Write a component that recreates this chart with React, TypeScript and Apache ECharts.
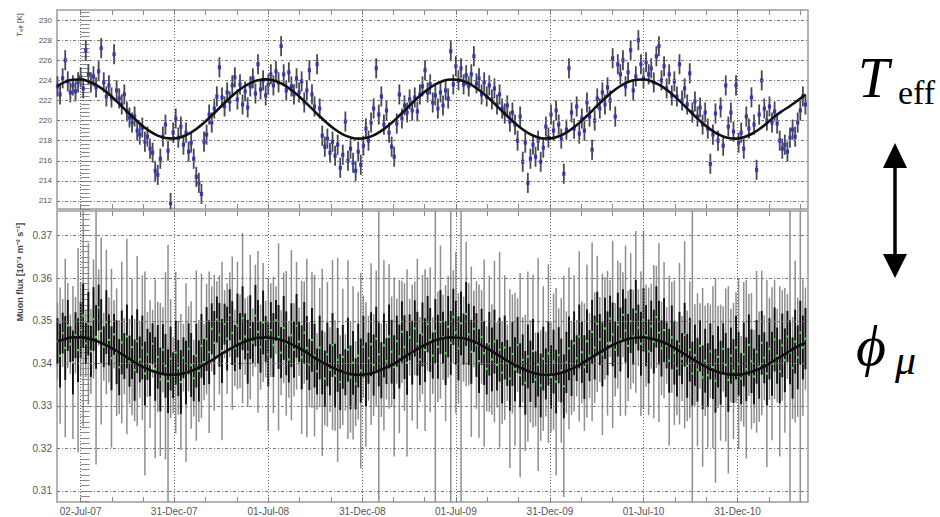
import React, { useEffect, useRef } from "react";
import * as echarts from "echarts";

// ---- x positions: days since 02-Jul-2007 ----
const START_DAY = -45;
const STEP_DAYS = 5;

// Effective temperature T_eff [K] (read every 5 days)
const TEFF = [
  223.4, 222.6, 224.2, 226.0, 223.9, 222.8, 223.5, 222.9, 223.8, 224.3,
  223.2, 227.0, 224.6, 223.8, 224.4, 223.3, 224.9, 227.2, 223.8, 222.4,
  223.5, 222.3, 226.6, 223.0, 222.2, 221.6, 222.6, 220.9, 220.3, 219.8,
  220.4, 219.0, 218.6, 219.3, 217.9, 218.4, 217.2, 216.8, 215.0, 214.6,
  216.2, 218.4, 219.6, 217.0, 211.8, 218.8, 220.2, 218.3, 219.4, 217.6,
  218.8, 216.9, 217.8, 216.2, 214.4, 213.8, 212.7, 217.9, 218.6, 220.6,
  219.8, 221.2, 222.4, 225.3, 222.3, 221.4, 222.8, 221.9, 223.5, 224.3,
  222.1, 223.6, 221.6, 222.9, 221.3, 223.4, 224.2, 222.7, 225.6, 223.1,
  224.0, 222.5, 223.6, 224.6, 223.5, 224.9, 223.8, 227.4, 224.6, 223.0,
  224.8, 223.4, 222.6, 224.2, 222.8, 223.9, 221.8, 223.0, 225.0, 222.6,
  221.4, 225.6, 221.2, 218.5, 217.4, 218.2, 216.8, 217.9, 216.5, 217.6,
  215.3, 216.6, 219.9, 216.0, 217.2, 215.8, 215.0, 216.9, 215.6, 217.5,
  219.2, 218.0, 219.8, 221.2, 225.2, 220.6, 222.4, 219.6, 221.0, 218.8,
  217.4, 216.4, 219.7, 222.6, 220.2, 221.5, 220.8, 222.1, 221.0, 222.3,
  220.9, 222.6, 223.4, 225.0, 222.8, 223.6, 221.8, 222.5, 221.2, 222.8,
  221.5, 223.0, 222.2, 226.9, 223.6, 225.4, 224.0, 225.2, 223.6, 224.5,
  223.4, 224.6, 226.4, 223.7, 224.2, 222.6, 223.8, 222.4, 223.5, 222.1,
  223.2, 221.6, 222.6, 221.2, 220.7, 221.5, 219.9, 220.8, 219.6, 218.0,
  220.4, 215.9, 217.8, 213.8, 216.2, 217.6, 216.4, 218.0, 215.9, 217.3,
  219.4, 218.3, 220.6, 219.0, 221.0, 219.6, 218.2, 214.7, 219.1, 225.2,
  220.8, 219.2, 221.4, 218.7, 220.2, 219.0, 221.8, 220.4, 217.1, 220.0,
  222.2, 221.2, 222.8, 221.6, 223.3, 222.0, 226.2, 220.4, 225.6, 224.6,
  226.0, 223.4, 224.8, 227.0, 223.0, 224.4, 228.0, 225.6, 224.2, 225.8,
  224.6, 225.2, 223.8, 226.4, 227.4, 224.0, 225.4, 223.2, 224.6, 222.5,
  223.9, 222.4, 225.6, 222.0, 223.2, 221.6, 224.7, 220.8, 221.9, 220.4,
  221.3, 219.6, 220.8, 219.2, 215.7, 218.6, 220.7, 218.0, 221.3, 217.5,
  223.5, 219.4, 220.8, 218.9, 223.5, 217.8, 218.8, 217.2, 220.4, 219.2,
  222.3, 219.6, 215.1, 220.6, 224.0, 221.2, 220.0, 221.4, 219.8, 220.9,
  219.7, 218.0, 217.2, 217.6, 216.9, 218.3, 219.1, 218.4, 219.8, 221.0,
  222.4, 221.6,
];
const TEFF_ERR = 1.0;

// Muon flux [1e-4 m^-2 s^-1] (read every 5 days)
const FLUX = [
  0.3452, 0.3418, 0.3471, 0.3436, 0.3489, 0.3445, 0.3402, 0.3466, 0.3431, 0.3478,
  0.3512, 0.3447, 0.3493, 0.3428, 0.3504, 0.3462, 0.3531, 0.3476, 0.3439, 0.3497,
  0.3455, 0.3412, 0.3468, 0.3426, 0.3391, 0.3449, 0.3417, 0.3463, 0.3405, 0.3438,
  0.3384, 0.3452, 0.3409, 0.3437, 0.3376, 0.3421, 0.3398, 0.3446, 0.3387, 0.3415,
  0.3362, 0.3432, 0.3394, 0.3358, 0.3411, 0.3372, 0.3425, 0.3389, 0.3356, 0.3413,
  0.3378, 0.3434, 0.3396, 0.3365, 0.3418, 0.3382, 0.3441, 0.3403, 0.3457, 0.3426,
  0.3481, 0.3448, 0.3503, 0.3467, 0.3429, 0.3492, 0.3458, 0.3514, 0.3471, 0.3436,
  0.3489, 0.3452, 0.3506, 0.3463, 0.3427, 0.3485, 0.3449, 0.3512, 0.3474, 0.3438,
  0.3496, 0.3457, 0.3421, 0.3478, 0.3443, 0.3501, 0.3462, 0.3425, 0.3483, 0.3447,
  0.3409, 0.3466, 0.3432, 0.3488, 0.3451, 0.3414, 0.3472, 0.3436, 0.3397, 0.3455,
  0.3418, 0.3381, 0.3437, 0.3402, 0.3364, 0.3421, 0.3385, 0.3443, 0.3371, 0.3408,
  0.3356, 0.3415, 0.3379, 0.3432, 0.3367, 0.3401, 0.3352, 0.3418, 0.3383, 0.3439,
  0.3374, 0.3412, 0.3445, 0.3396, 0.3458, 0.3421, 0.3384, 0.3442, 0.3405, 0.3463,
  0.3427, 0.3391, 0.3452, 0.3416, 0.3474, 0.3438, 0.3401, 0.3461, 0.3425, 0.3482,
  0.3446, 0.3409, 0.3468, 0.3431, 0.3492, 0.3455, 0.3418, 0.3476, 0.3439, 0.3497,
  0.3461, 0.3424, 0.3486, 0.3448, 0.3509, 0.3472, 0.3435, 0.3494, 0.3457, 0.3516,
  0.3468, 0.3427, 0.3481, 0.3443, 0.3405, 0.3462, 0.3424, 0.3387, 0.3446, 0.3409,
  0.3451, 0.3396, 0.3432, 0.3378, 0.3437, 0.3401, 0.3364, 0.3422, 0.3386, 0.3443,
  0.3372, 0.3408, 0.3354, 0.3416, 0.3381, 0.3429, 0.3362, 0.3397, 0.3348, 0.3411,
  0.3375, 0.3423, 0.3368, 0.3404, 0.3357, 0.3419, 0.3383, 0.3346, 0.3402, 0.3435,
  0.3389, 0.3447, 0.3412, 0.3463, 0.3426, 0.3391, 0.3452, 0.3418, 0.3474, 0.3437,
  0.3493, 0.3456, 0.3421, 0.3482, 0.3447, 0.3505, 0.3468, 0.3432, 0.3491, 0.3456,
  0.3514, 0.3477, 0.3441, 0.3499, 0.3463, 0.3521, 0.3484, 0.3446, 0.3502, 0.3465,
  0.3428, 0.3487, 0.3451, 0.3509, 0.3472, 0.3435, 0.3478, 0.3442, 0.3406, 0.3461,
  0.3425, 0.3388, 0.3446, 0.3411, 0.3467, 0.3394, 0.3432, 0.3376, 0.3419, 0.3385,
  0.3441, 0.3367, 0.3406, 0.3372, 0.3428, 0.3391, 0.3359, 0.3415, 0.3378, 0.3434,
  0.3396, 0.3361, 0.3418, 0.3382, 0.3437, 0.3399, 0.3364, 0.3421, 0.3386, 0.3443,
  0.3405, 0.3369, 0.3427, 0.3392, 0.3448, 0.3413, 0.3376, 0.3434, 0.3399, 0.3456,
  0.3418, 0.3381, 0.3442, 0.3407, 0.3463, 0.3426, 0.3389, 0.3451, 0.3414, 0.3472,
  0.3437, 0.3458,
];
const FLUX_ERR = [
  0.009, 0.016, 0.008, 0.021, 0.010, 0.007, 0.018, 0.009, 0.024, 0.011,
  0.026, 0.008, 0.019, 0.010, 0.014, 0.030, 0.009, 0.022, 0.008, 0.017,
  0.010, 0.021, 0.008, 0.015, 0.011, 0.019, 0.009, 0.023, 0.010, 0.016,
  0.012, 0.020, 0.009, 0.017, 0.024, 0.010, 0.015, 0.008, 0.021, 0.013,
  0.018, 0.010, 0.022, 0.032, 0.014, 0.009, 0.019, 0.011, 0.016, 0.008,
  0.021, 0.010, 0.015, 0.009, 0.020, 0.012, 0.017, 0.009, 0.013, 0.019,
  0.010, 0.016, 0.009, 0.014, 0.021, 0.008, 0.013, 0.010, 0.018, 0.009,
  0.015, 0.011, 0.020, 0.009, 0.013, 0.017, 0.008, 0.012, 0.019, 0.010,
  0.014, 0.009, 0.018, 0.011, 0.016, 0.008, 0.022, 0.010, 0.013, 0.017,
  0.009, 0.020, 0.011, 0.015, 0.008, 0.018, 0.012, 0.021, 0.010, 0.016,
  0.019, 0.009, 0.014, 0.022, 0.011, 0.017, 0.010, 0.020, 0.013, 0.024,
  0.011, 0.016, 0.009, 0.021, 0.013, 0.018, 0.010, 0.015, 0.023, 0.012,
  0.017, 0.010, 0.019, 0.012, 0.016, 0.036, 0.011, 0.020, 0.009, 0.017,
  0.013, 0.021, 0.010, 0.018, 0.012, 0.015, 0.022, 0.009, 0.016, 0.011,
  0.020, 0.010, 0.014, 0.019, 0.011, 0.017, 0.009, 0.042, 0.013, 0.018,
  0.010, 0.016, 0.012, 0.045, 0.011, 0.019, 0.013, 0.046, 0.010, 0.017,
  0.012, 0.020, 0.009, 0.015, 0.018, 0.011, 0.022, 0.010, 0.016, 0.013,
  0.019, 0.010, 0.023, 0.012, 0.017, 0.009, 0.021, 0.014, 0.018, 0.011,
  0.024, 0.010, 0.016, 0.020, 0.012, 0.018, 0.011, 0.025, 0.013, 0.017,
  0.010, 0.021, 0.013, 0.016, 0.022, 0.011, 0.017, 0.026, 0.012, 0.019,
  0.011, 0.016, 0.009, 0.020, 0.012, 0.015, 0.018, 0.010, 0.021, 0.013,
  0.016, 0.010, 0.019, 0.012, 0.017, 0.009, 0.022, 0.011, 0.015, 0.018,
  0.010, 0.020, 0.013, 0.016, 0.011, 0.019, 0.009, 0.017, 0.021, 0.012,
  0.015, 0.010, 0.018, 0.012, 0.021, 0.011, 0.016, 0.009, 0.020, 0.013,
  0.017, 0.011, 0.019, 0.010, 0.022, 0.013, 0.016, 0.040, 0.012, 0.018,
  0.010, 0.021, 0.013, 0.017, 0.011, 0.019, 0.024, 0.012, 0.016, 0.010,
  0.018, 0.022, 0.011, 0.016, 0.013, 0.020, 0.010, 0.017, 0.021, 0.012,
  0.016, 0.011, 0.019, 0.013, 0.017, 0.010, 0.022, 0.012, 0.018, 0.014,
  0.011, 0.020, 0.013, 0.017, 0.010, 0.045, 0.012, 0.019, 0.014, 0.040,
  0.016, 0.012,
];

// Fitted seasonal curves (read every 15 days)
const FIT_START = -45;
const FIT_STEP = 15;
const TEFF_FIT = [
  223.46, 223.85, 224.06, 224.08, 223.91, 223.55, 223.04, 222.40, 221.67, 220.91,
  220.17, 219.49, 218.92, 218.50, 218.26, 218.21, 218.35, 218.68, 219.16, 219.78,
  220.50, 221.25, 222.00, 222.70, 223.29, 223.73, 224.01, 224.10, 223.99, 223.70,
  223.23, 222.63, 221.93, 221.18, 220.42, 219.72, 219.11, 218.63, 218.33, 218.20,
  218.27, 218.53, 218.97, 219.55, 220.24, 220.99, 221.75, 222.46, 223.09, 223.60,
  223.94, 224.09, 224.05, 223.82, 223.41, 222.85, 222.18, 221.44, 220.69, 219.96,
  219.31, 218.78, 218.41, 218.22, 218.23, 218.43, 218.80, 219.34, 219.99, 220.72,
  221.48, 222.22, 222.89, 223.44, 223.84, 224.06, 224.09, 223.92, 223.57, 223.06,
  222.43, 221.71, 220.95, 220.20, 219.52, 218.95, 218.52, 218.26, 218.20, 218.34,
  218.66, 219.14, 219.74, 220.40, 220.95, 221.45, 222.00, 222.60,
];
const FLUX_FIT = [
  0.3452, 0.3457, 0.3461, 0.3461, 0.3458, 0.3453, 0.3445, 0.3436, 0.3425, 0.3414,
  0.3402, 0.3392, 0.3384, 0.3378, 0.3374, 0.3373, 0.3375, 0.3380, 0.3387, 0.3397,
  0.3407, 0.3419, 0.3430, 0.3440, 0.3449, 0.3456, 0.3460, 0.3461, 0.3459, 0.3455,
  0.3448, 0.3439, 0.3429, 0.3417, 0.3406, 0.3396, 0.3387, 0.3380, 0.3375, 0.3373,
  0.3374, 0.3378, 0.3385, 0.3393, 0.3403, 0.3415, 0.3426, 0.3437, 0.3446, 0.3454,
  0.3459, 0.3461, 0.3460, 0.3457, 0.3451, 0.3442, 0.3432, 0.3421, 0.3410, 0.3399,
  0.3390, 0.3382, 0.3376, 0.3373, 0.3373, 0.3376, 0.3382, 0.3390, 0.3400, 0.3411,
  0.3422, 0.3433, 0.3443, 0.3451, 0.3457, 0.3460, 0.3461, 0.3458, 0.3453, 0.3446,
  0.3436, 0.3425, 0.3414, 0.3403, 0.3393, 0.3384, 0.3378, 0.3374, 0.3373, 0.3375,
  0.3380, 0.3387, 0.3396, 0.3407, 0.3418, 0.3429, 0.3440, 0.3448,
];

// Axes
const X_LABEL_DAYS = [0, 182, 365, 548, 730, 913, 1095, 1278];
const X_LABELS = ["02-Jul-07", "31-Dec-07", "01-Jul-08", "31-Dec-08", "01-Jul-09", "31-Dec-09", "01-Jul-10", "31-Dec-10"];
const X_TICK_DAYS = [0, 61, 122, 182, 243, 304, 365, 426, 487, 548, 609, 669, 730, 791, 852, 913, 974, 1035, 1095, 1156, 1217, 1278, 1339, 1400];
const TEFF_TICKS = [212, 214, 216, 218, 220, 222, 224, 226, 228, 230];
const FLUX_TICKS = [0.31, 0.32, 0.33, 0.34, 0.35, 0.36, 0.37];

const X_MIN = -46;
const X_MAX = 1415;

const teffMinor: number[] = [];
for (let k = -2; k <= 47; k++) teffMinor.push(Math.round((212 + 0.4 * k) * 100) / 100);
const fluxMinor: number[] = [];
for (let k = -2; k <= 52; k++) fluxMinor.push(Math.round((0.31 + 0.00125 * k) * 100000) / 100000);

const FONT = "'Liberation Sans', Arial, sans-serif";
const SERIF = "'Liberation Serif', 'DejaVu Serif', serif";

function xAxisDef(gridIndex: number, position: "top" | "bottom", labels: boolean) {
  return {
    type: "value",
    gridIndex,
    position,
    min: X_MIN,
    max: X_MAX,
    axisLine: { show: false },
    splitLine: { show: false },
    axisTick: {
      show: true,
      inside: true,
      length: 5,
      customValues: X_TICK_DAYS,
      lineStyle: { color: "#8a8a8a", width: 1 },
    },
    axisLabel: {
      show: labels,
      customValues: X_LABEL_DAYS,
      formatter: (v: number) => {
        const i = X_LABEL_DAYS.indexOf(Math.round(v));
        return i >= 0 ? X_LABELS[i] : "";
      },
      fontFamily: FONT,
      fontSize: 10,
      color: "#555",
      margin: 4,
    },
  };
}

function errRender(kind: "teff" | "flux") {
  return (params: any, api: any) => {
    const cs = params.coordSys;
    const x = api.value(0);
    const v = api.value(1);
    const e = api.value(2);
    const clampY = (y: number) => Math.max(cs.y, Math.min(cs.y + cs.height, y));
    const c = api.coord([x, v]);
    const t = clampY(api.coord([x, v + e])[1]);
    const b = clampY(api.coord([x, v - e])[1]);
    if (kind === "teff") {
      return {
        type: "group",
        children: [
          { type: "line", shape: { x1: c[0], y1: t, x2: c[0], y2: b }, style: { stroke: "#474755", lineWidth: 1.8 } },
          { type: "rect", shape: { x: c[0] - 1.6, y: c[1] - 2, width: 3.2, height: 4 }, style: { fill: "#3535b8" } },
        ],
      };
    }
    const core = Math.min(e * 0.6, 0.0075);
    const ct = clampY(api.coord([x, v + core])[1]);
    const cb = clampY(api.coord([x, v - core])[1]);
    return {
      type: "group",
      children: [
        { type: "line", shape: { x1: c[0], y1: t, x2: c[0], y2: b }, style: { stroke: "#8e8e8e", lineWidth: 1.5 } },
        { type: "line", shape: { x1: c[0], y1: ct, x2: c[0], y2: cb }, style: { stroke: "#111", lineWidth: 1.9 } },
        { type: "rect", shape: { x: c[0] - 1.1, y: c[1] - 1.1, width: 2.2, height: 2.2 }, style: { fill: "#45d545" } },
      ],
    };
  };
}

function gridMarks(yTicks: number[]) {
  return {
    silent: true,
    symbol: ["none", "none"],
    label: { show: false },
    emphasis: { disabled: true },
    data: [
      ...X_LABEL_DAYS.map((d) => ({ xAxis: d, lineStyle: { type: [1, 2], color: "#666", width: 1 } })),
      ...yTicks.map((v) => ({ yAxis: v, lineStyle: { type: [3, 2, 1, 2], color: "#777", width: 1 } })),
    ],
  };
}

export default function App() {
  const ref = useRef<HTMLDivElement>(null);
  useEffect(() => {
    if (!ref.current) return;
    const chart = echarts.init(ref.current, undefined, { renderer: "svg" });
    const teffData = TEFF.map((v, i) => [START_DAY + i * STEP_DAYS, v, TEFF_ERR]);
    const fluxData = FLUX.map((v, i) => [START_DAY + i * STEP_DAYS, v, FLUX_ERR[i]]);
    const option: any = {
      animation: false,
      backgroundColor: "#fff",
      grid: [
        { left: 57, top: 10, width: 751, height: 199, show: true, borderColor: "#9a9a9a", borderWidth: 1.5, backgroundColor: "transparent" },
        { left: 57, top: 211, width: 751, height: 291, show: true, borderColor: "#9a9a9a", borderWidth: 1.5, backgroundColor: "transparent" },
      ],
      xAxis: [
        xAxisDef(0, "bottom", false),
        xAxisDef(0, "top", false),
        xAxisDef(1, "bottom", true),
        xAxisDef(1, "top", false),
      ],
      yAxis: [
        {
          type: "value",
          gridIndex: 0,
          min: 211.2,
          max: 231.0,
          axisLine: { show: false },
          splitLine: { show: false },
          axisTick: { show: true, inside: true, length: 9, customValues: teffMinor, lineStyle: { color: "#8a8a8a" } },
          axisLabel: { customValues: TEFF_TICKS, fontFamily: FONT, fontSize: 8, color: "#555", margin: 5 },
        },
        {
          type: "value",
          gridIndex: 1,
          min: 0.3074,
          max: 0.3758,
          axisLine: { show: false },
          splitLine: { show: false },
          axisTick: { show: true, inside: true, length: 9, customValues: fluxMinor, lineStyle: { color: "#8a8a8a" } },
          axisLabel: {
            customValues: FLUX_TICKS,
            formatter: (v: number) => v.toFixed(2),
            fontFamily: FONT,
            fontSize: 10,
            color: "#555",
            margin: 5,
          },
        },
      ],
      series: [
        { type: "line", xAxisIndex: 0, yAxisIndex: 0, data: [], z: 1, markLine: gridMarks(TEFF_TICKS) },
        { type: "line", xAxisIndex: 2, yAxisIndex: 1, data: [], z: 1, markLine: gridMarks(FLUX_TICKS) },
        { type: "custom", xAxisIndex: 0, yAxisIndex: 0, data: teffData, renderItem: errRender("teff"), encode: { x: 0, y: 1 }, z: 3, silent: true },
        { type: "custom", xAxisIndex: 2, yAxisIndex: 1, data: fluxData, renderItem: errRender("flux"), encode: { x: 0, y: 1 }, z: 3, silent: true },
        {
          type: "line", xAxisIndex: 0, yAxisIndex: 0, z: 5, smooth: 0.4, showSymbol: false, silent: true,
          data: TEFF_FIT.map((v, i) => [FIT_START + i * FIT_STEP, v]),
          lineStyle: { color: "#111", width: 2.6 },
        },
        {
          type: "line", xAxisIndex: 2, yAxisIndex: 1, z: 5, smooth: 0.4, showSymbol: false, silent: true,
          data: FLUX_FIT.map((v, i) => [FIT_START + i * FIT_STEP, v]),
          lineStyle: { color: "#111", width: 2.6 },
        },
      ],
      graphic: [
        {
          type: "text", x: 19, y: 25, rotation: Math.PI / 2,
          style: {
            text: "{a|T}{b|eff}{a| [K]}", align: "center", verticalAlign: "middle", fill: "#444",
            rich: { a: { fontSize: 8, fontFamily: FONT, fill: "#444" }, b: { fontSize: 6, fontFamily: FONT, fill: "#444", padding: [4, 0, 0, 0] } },
          },
        },
        {
          type: "text", x: 20, y: 272, rotation: Math.PI / 2,
          style: { text: "Muon flux [10⁻⁴ m⁻² s⁻¹]", align: "center", verticalAlign: "middle", fill: "#444", fontSize: 9, fontWeight: "bold", fontFamily: FONT },
        },
        { type: "text", x: 858, y: 78, style: { text: "T", fontFamily: SERIF, fontStyle: "italic", fontSize: 56, fill: "#000", align: "left", verticalAlign: "middle" } },
        { type: "text", x: 898, y: 92, style: { text: "eff", fontFamily: SERIF, fontSize: 34, fill: "#000", align: "left", verticalAlign: "middle" } },
        { type: "line", shape: { x1: 895, y1: 162, x2: 895, y2: 260 }, style: { stroke: "#000", lineWidth: 3.5 } },
        { type: "polygon", shape: { points: [[895, 143], [883, 168], [907, 168]] }, style: { fill: "#000" } },
        { type: "polygon", shape: { points: [[895, 278], [883, 254], [907, 254]] }, style: { fill: "#000" } },
        { type: "text", x: 856, y: 345, style: { text: "ϕ", fontFamily: SERIF, fontStyle: "italic", fontSize: 58, fill: "#000", align: "left", verticalAlign: "middle" } },
        { type: "text", x: 895, y: 360, style: { text: "μ", fontFamily: SERIF, fontStyle: "italic", fontSize: 42, fill: "#000", align: "left", verticalAlign: "middle" } },
      ],
    };
    chart.setOption(option);
    return () => chart.dispose();
  }, []);
  return (
    <div style={{ position: "absolute", left: 0, top: 0, width: 940, height: 517, background: "#fff" }}>
      <div ref={ref} style={{ width: 940, height: 517 }} />
    </div>
  );
}
